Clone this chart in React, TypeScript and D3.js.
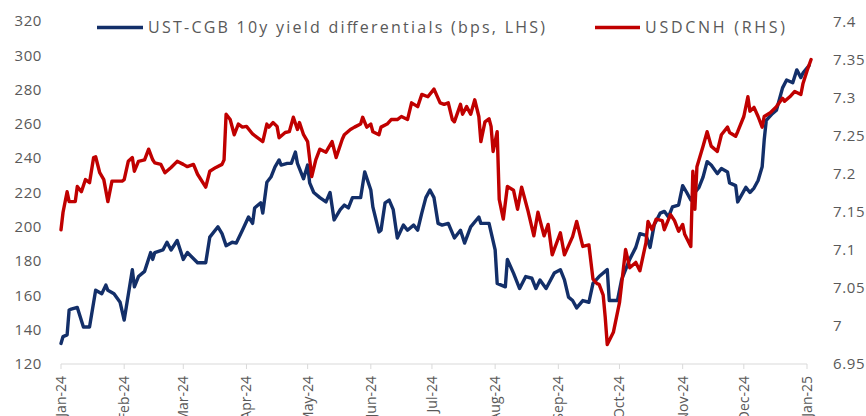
import React from "react";
import * as d3 from "d3";

const ustDates = [
  "2024-01-01","2024-01-02","2024-01-04","2024-01-05","2024-01-06","2024-01-09","2024-01-12","2024-01-15","2024-01-18","2024-01-21",
  "2024-01-23","2024-01-24","2024-01-27","2024-01-30","2024-02-01","2024-02-02","2024-02-05","2024-02-06","2024-02-08","2024-02-11",
  "2024-02-14","2024-02-15","2024-02-16","2024-02-20","2024-02-22","2024-02-24","2024-02-27","2024-03-01","2024-03-03","2024-03-08",
  "2024-03-12","2024-03-14","2024-03-18","2024-03-20","2024-03-22","2024-03-25","2024-03-27","2024-03-30","2024-04-02","2024-04-04",
  "2024-04-05","2024-04-08","2024-04-09","2024-04-11","2024-04-13","2024-04-15","2024-04-17","2024-04-18","2024-04-21","2024-04-23",
  "2024-04-25","2024-04-26","2024-04-29","2024-05-01","2024-05-02","2024-05-04","2024-05-07","2024-05-10","2024-05-12","2024-05-14",
  "2024-05-17","2024-05-19","2024-05-21","2024-05-23","2024-05-27","2024-05-29","2024-06-01","2024-06-02","2024-06-05","2024-06-06",
  "2024-06-08","2024-06-10","2024-06-12","2024-06-14","2024-06-17","2024-06-19","2024-06-22","2024-06-24","2024-06-26","2024-06-28",
  "2024-06-30","2024-07-02","2024-07-04","2024-07-06","2024-07-09","2024-07-12","2024-07-15","2024-07-17","2024-07-20","2024-07-24",
  "2024-07-25","2024-07-29","2024-08-01","2024-08-02","2024-08-06","2024-08-07","2024-08-10","2024-08-13","2024-08-16","2024-08-19",
  "2024-08-21","2024-08-23","2024-08-26","2024-08-30","2024-09-02","2024-09-04","2024-09-06","2024-09-08","2024-09-10","2024-09-13",
  "2024-09-16","2024-09-18","2024-09-21","2024-09-25","2024-09-26","2024-09-30","2024-10-02","2024-10-06","2024-10-09","2024-10-11",
  "2024-10-14","2024-10-16","2024-10-18","2024-10-21","2024-10-23","2024-10-25","2024-10-27","2024-10-30","2024-11-01","2024-11-03",
  "2024-11-05","2024-11-07","2024-11-09","2024-11-11","2024-11-13","2024-11-15","2024-11-18","2024-11-20","2024-11-23","2024-11-24",
  "2024-11-27","2024-11-28","2024-12-02","2024-12-04","2024-12-06","2024-12-08","2024-12-10","2024-12-11","2024-12-12","2024-12-15",
  "2024-12-17","2024-12-20","2024-12-22","2024-12-25","2024-12-27","2024-12-29","2024-12-30","2025-01-01","2025-01-02"
];
const ustValues = [
  132,136,137,151.5,152,153,141.6,141.6,163,161,
  166,163,161,156,145.6,153,175,165,171,174,
  185,181,185,186.5,191,186.5,192,181,185,179,
  179,194,200,196,189,191,190.5,198,205.7,202,
  211,214,208,226,229,235,239,236,237,237,
  243.6,237,228,236,225.6,220,217,214.5,220,204,
  210,212.7,211,217,217,232,221.5,211.6,197,198,
  214,215.6,210,193.5,201,198,201,198,208,217,
  221.5,217,202,201,202,193.5,198,190.5,200,205.7,
  202,202,186.5,167,165,181,173,164,171,170,
  164,169,164,173,175,169,159,157,152.7,157,
  156,167,171,175,157,157,169,181,188,196,
  195,188,201,208,209,205.7,211.6,212.7,224,220,
  215.6,220,223,229,238,236,231,234,232,225.6,
  224,214.5,223,220,222.6,227,235,250.6,262,266,
  268,281,285.6,284,291.5,287,289.6,292.6,294
];

const cnhDates = [
  "2024-01-01","2024-01-02","2024-01-04","2024-01-05","2024-01-08","2024-01-09","2024-01-11","2024-01-13","2024-01-15","2024-01-17",
  "2024-01-18","2024-01-20","2024-01-22","2024-01-24","2024-01-26","2024-01-31","2024-02-01","2024-02-03","2024-02-05","2024-02-06",
  "2024-02-08","2024-02-11","2024-02-13","2024-02-15","2024-02-16","2024-02-19","2024-02-21","2024-02-24","2024-02-27","2024-03-01",
  "2024-03-03","2024-03-06","2024-03-08","2024-03-12","2024-03-14","2024-03-17","2024-03-20","2024-03-21","2024-03-22","2024-03-24",
  "2024-03-26","2024-03-28","2024-03-30","2024-04-01","2024-04-04","2024-04-09","2024-04-11","2024-04-12","2024-04-14","2024-04-16",
  "2024-04-17","2024-04-20","2024-04-22","2024-04-24","2024-04-26","2024-04-27","2024-04-29","2024-05-01","2024-05-03","2024-05-05",
  "2024-05-07","2024-05-10","2024-05-13","2024-05-15","2024-05-18","2024-05-19","2024-05-22","2024-05-24","2024-05-27","2024-05-28",
  "2024-05-30","2024-06-01","2024-06-02","2024-06-05","2024-06-06","2024-06-09","2024-06-11","2024-06-14","2024-06-16","2024-06-19",
  "2024-06-21","2024-06-24","2024-06-26","2024-06-29","2024-07-02","2024-07-05","2024-07-07","2024-07-09","2024-07-11","2024-07-12",
  "2024-07-15","2024-07-16","2024-07-18","2024-07-20","2024-07-22","2024-07-24","2024-07-25","2024-07-27","2024-07-29","2024-07-30",
  "2024-07-31","2024-08-02","2024-08-03","2024-08-05","2024-08-07","2024-08-10","2024-08-12","2024-08-14","2024-08-17","2024-08-20",
  "2024-08-22","2024-08-25","2024-08-27","2024-08-29","2024-09-02","2024-09-04","2024-09-08","2024-09-10","2024-09-13","2024-09-16",
  "2024-09-18","2024-09-20","2024-09-21","2024-09-23","2024-09-24","2024-09-25","2024-09-28","2024-10-01","2024-10-04","2024-10-06",
  "2024-10-09","2024-10-11","2024-10-14","2024-10-15","2024-10-17","2024-10-19","2024-10-22","2024-10-23","2024-10-26","2024-10-28",
  "2024-10-30","2024-11-01","2024-11-02","2024-11-05","2024-11-06","2024-11-07","2024-11-08","2024-11-11","2024-11-13","2024-11-15",
  "2024-11-18","2024-11-20","2024-11-23","2024-11-24","2024-11-27","2024-11-28","2024-12-01","2024-12-03","2024-12-04","2024-12-06",
  "2024-12-08","2024-12-10","2024-12-11","2024-12-14","2024-12-17","2024-12-20","2024-12-21","2024-12-24","2024-12-26","2024-12-29",
  "2024-12-30","2025-01-01","2025-01-03"
];
const cnhValues = [
  7.126,7.149,7.176,7.163,7.163,7.183,7.176,7.192,7.188,7.221,
  7.222,7.201,7.192,7.163,7.190,7.190,7.192,7.216,7.221,7.203,
  7.216,7.218,7.232,7.218,7.214,7.212,7.201,7.208,7.216,7.212,
  7.209,7.212,7.199,7.182,7.203,7.208,7.212,7.218,7.278,7.271,
  7.251,7.265,7.261,7.262,7.252,7.242,7.265,7.261,7.267,7.262,
  7.247,7.254,7.255,7.274,7.258,7.267,7.251,7.242,7.196,7.218,
  7.232,7.228,7.242,7.221,7.245,7.251,7.258,7.261,7.265,7.274,
  7.261,7.265,7.255,7.251,7.261,7.265,7.271,7.271,7.275,7.271,
  7.293,7.288,7.304,7.301,7.311,7.293,7.291,7.293,7.271,7.268,
  7.291,7.278,7.288,7.278,7.297,7.275,7.242,7.268,7.272,7.262,
  7.229,7.255,7.166,7.140,7.183,7.178,7.153,7.182,7.152,7.118,
  7.149,7.118,7.133,7.093,7.122,7.093,7.117,7.137,7.104,7.106,
  7.061,7.055,7.054,7.040,7.011,6.975,6.991,7.030,7.100,7.076,
  7.083,7.072,7.109,7.137,7.126,7.140,7.138,7.126,7.146,7.138,
  7.124,7.133,7.120,7.104,7.203,7.153,7.209,7.236,7.255,7.236,
  7.229,7.251,7.261,7.254,7.249,7.255,7.275,7.301,7.282,7.287,
  7.275,7.261,7.275,7.280,7.288,7.299,7.295,7.302,7.308,7.304,
  7.318,7.335,7.350
];

const monthTicks = [
  "2024-01-01","2024-02-01","2024-03-01","2024-04-01","2024-05-01","2024-06-01","2024-07-01",
  "2024-08-01","2024-09-01","2024-10-01","2024-11-01","2024-12-01","2025-01-01"
];
const monthLabels = ["Jan-24","Feb-24","Mar-24","Apr-24","May-24","Jun-24","Jul-24","Aug-24","Sep-24","Oct-24","Nov-24","Dec-24","Jan-25"];
const leftTicks = [120, 140, 160, 180, 200, 220, 240, 260, 280, 300, 320];
const rightTicks = [6.95, 7.0, 7.05, 7.1, 7.15, 7.2, 7.25, 7.3, 7.35, 7.4];
const seriesNames = ["UST-CGB 10y yield differentials (bps, LHS)", "USDCNH (RHS)"];

const BLUE = "#132f69";
const RED = "#c00000";
const GRAY = "#595959";
const FONT = "'Open Sans', sans-serif";

export default function App() {
  const W = 866, H = 416;
  const parse = d3.utcParse("%Y-%m-%d");
  const x = d3.scaleUtc().domain([parse("2024-01-01")!, parse("2025-01-01")!]).range([61, 807]);
  const yL = d3.scaleLinear().domain([120, 320]).range([364, 21]);
  const yR = d3.scaleLinear().domain([6.95, 7.4]).range([363.5, 21.5]);

  const ust = ustDates.map((d, i) => ({ d: parse(d)!, v: ustValues[i] }));
  const cnh = cnhDates.map((d, i) => ({ d: parse(d)!, v: cnhValues[i] }));

  const lineL = d3.line<{ d: Date; v: number }>().x(p => x(p.d)).y(p => yL(p.v));
  const lineR = d3.line<{ d: Date; v: number }>().x(p => x(p.d)).y(p => yR(p.v));

  const fmtR = (v: number) => String(+v.toFixed(2));

  return (
    <div style={{ position: "fixed", left: 0, top: 0, width: W, height: H, background: "#fff" }}>
      <svg width={W} height={H} style={{ display: "block" }} fontFamily={FONT}>
        <rect x={0} y={0} width={W} height={H} fill="#fff" />
        {/* x axis */}
        <line x1={x(parse(monthTicks[0])!)} x2={x(parse(monthTicks[monthTicks.length - 1])!)} y1={364} y2={364} stroke="#d9d9d9" strokeWidth={1} />
        {monthTicks.map((t, i) => {
          const xx = x(parse(t)!);
          return (
            <g key={t}>
              <line x1={xx} x2={xx} y1={364} y2={369} stroke="#d9d9d9" strokeWidth={1} />
              <text
                transform={`translate(${xx + 5},${376}) rotate(-90)`}
                textAnchor="end"
                fontSize={14}
                fill={GRAY}
              >
                {monthLabels[i]}
              </text>
            </g>
          );
        })}
        {/* left axis labels */}
        {leftTicks.map(t => (
          <text key={"l" + t} x={42} y={yL(t)} dy="0.35em" textAnchor="end" fontSize={15} fill={GRAY} letterSpacing={0.6}>
            {t}
          </text>
        ))}
        {/* right axis labels */}
        {rightTicks.map(t => (
          <text key={"r" + t} x={833} y={yR(t)} dy="0.35em" textAnchor="start" fontSize={15} fill={GRAY} letterSpacing={0.6}>
            {fmtR(t)}
          </text>
        ))}
        {/* series */}
        <path d={lineL(ust) || ""} fill="none" stroke={BLUE} strokeWidth={3.4} strokeLinejoin="round" strokeLinecap="round" />
        <path d={lineR(cnh) || ""} fill="none" stroke={RED} strokeWidth={3.4} strokeLinejoin="round" strokeLinecap="round" />
        {/* legend */}
        <line x1={97} x2={143} y1={27.5} y2={27.5} stroke={BLUE} strokeWidth={3.4} />
        <text x={148} y={33} fontSize={16} fill={GRAY} textLength={397} lengthAdjust="spacing">{seriesNames[0]}</text>
        <line x1={595} x2={640} y1={27.5} y2={27.5} stroke={RED} strokeWidth={3.4} />
        <text x={645} y={33} fontSize={16} fill={GRAY} textLength={140} lengthAdjust="spacing">{seriesNames[1]}</text>
      </svg>
    </div>
  );
}
